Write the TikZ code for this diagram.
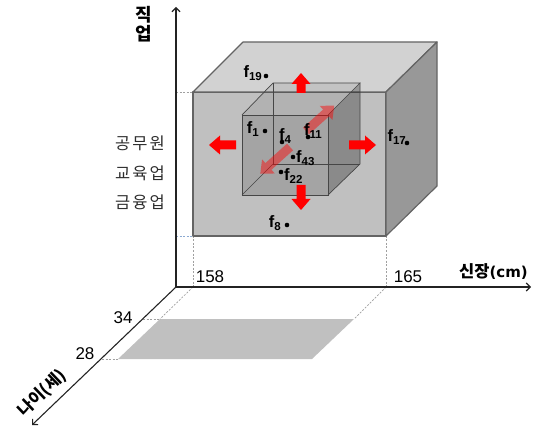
\documentclass[tikz,border=0pt]{standalone}
\usepackage{fontspec}
\setmainfont{Liberation Sans}
\newfontfamily\kr{Noto Sans CJK KR}
\newfontfamily\djv{DejaVu Sans}
\usetikzlibrary{arrows.meta}

\definecolor{frontc}{RGB}{192,192,192}
\definecolor{topc}{RGB}{210,210,210}
\definecolor{sidec}{RGB}{152,152,152}
\definecolor{edgec}{RGB}{100,100,100}
\definecolor{axisc}{RGB}{35,35,35}
\definecolor{dashc}{RGB}{160,160,160}
\definecolor{dashb}{RGB}{140,170,210}
\definecolor{txtc}{RGB}{45,45,45}
\definecolor{planec}{RGB}{192,192,192}

\newcommand{\fsub}[1]{{\fontsize{16.5}{16.5}\selectfont f}\raisebox{-2.5pt}{\fontsize{11.5}{11.5}\selectfont #1}}
\newcommand{\barrow}[5]{%
  \begin{scope}[shift={(#1,#2)},rotate=#3]
    \fill[#5] (0,-4.5) -- (#4-11,-4.5) -- (#4-11,-9.5) -- (#4,0) -- (#4-11,9.5) -- (#4-11,4.5) -- (0,4.5) -- cycle;
  \end{scope}}

\tikzset{
  face/.style={draw=edgec, line width=1.2pt, line join=round},
  ghost/.style={draw=edgec!70!black, line width=0.7pt},
  guide/.style={draw=dashc, dash pattern=on 2pt off 1.5pt, line width=0.7pt},
  guideb/.style={draw=dashb, dash pattern=on 2pt off 1.5pt, line width=0.9pt},
  axis/.style={draw=axisc, line width=1.1pt, -{Straight Barb[length=4pt,width=8pt]}},
  pt/.style={circle, fill=black, inner sep=0pt, minimum size=4.6pt},
  flab/.style={font=\bfseries, inner sep=0pt, text=black},
  num/.style={font=\fontsize{17}{17}\selectfont, text=black, inner sep=0pt},
  cat/.style={font=\kr\fontsize{16.5}{16.5}\selectfont, text=txtc, inner sep=0pt},
  axlab/.style={font=\kr\bfseries\fontsize{16.5}{16.5}\selectfont, text=black, inner sep=0pt},
  solidred/.style={red},
  softred/.style={red, fill opacity=0.45}
}

\begin{document}
\begin{tikzpicture}[x=1pt,y=-1pt]
\useasboundingbox (0,0) rectangle (537,427);

% axes coordinates
\coordinate (O) at (176,287);
\coordinate (Ytip) at (176,7);
\coordinate (Xtip) at (531,287);
\coordinate (Ztip) at (32,425);

% big box
\coordinate (FTL) at (193,92);
\coordinate (FTR) at (386,92);
\coordinate (FBR) at (386,236);
\coordinate (FBL) at (193,236);
\coordinate (BTL) at (243,42);
\coordinate (BTR) at (437,42);
\coordinate (BBR) at (437,186);

% axis points
\coordinate (X158) at (193,287);
\coordinate (X165) at (386,287);
\coordinate (Y1) at (176,92);
\coordinate (Y2) at (176,236);
\coordinate (Z34) at (143,319);
\coordinate (Z28) at (102,359);

% plane
\coordinate (PTL) at (160,319);
\coordinate (PTR) at (354,319);
\coordinate (PBR) at (312,359);
\coordinate (PBL) at (118,359);

\fill[planec] (PTL) -- (PTR) -- (PBR) -- (PBL) -- cycle;

% guides
\draw[guide] (FBL) -- (X158);
\draw[guide] (FBR) -- (X165);
\draw[guide] (X158) -- (PTL);
\draw[guide] (X165) -- (PTR);
\draw[guide] (Z34) -- (PTL);
\draw[guide] (Z28) -- (PBL);
\draw[guide] (Y1) -- (FTL);
\draw[guideb] (Y2) -- (FBL);

% big box faces
\filldraw[face, fill=frontc] (FTL) -- (FTR) -- (FBR) -- (FBL) -- cycle;
\filldraw[face, fill=topc] (FTL) -- (BTL) -- (BTR) -- (FTR) -- cycle;
\filldraw[face, fill=sidec] (FTR) -- (BTR) -- (BBR) -- (FBR) -- cycle;

% inner cube
\coordinate (iFTL) at (242,115);
\coordinate (iFTR) at (328,115);
\coordinate (iFBR) at (328,195);
\coordinate (iFBL) at (242,195);
\coordinate (iBTL) at (273,83);
\coordinate (iBTR) at (360,83);
\coordinate (iBBR) at (360,164);
\coordinate (iBBL) at (273,164);
\fill[black, fill opacity=0.14] (iFTL) -- (iFTR) -- (iFBR) -- (iFBL) -- cycle;
\fill[black, fill opacity=0.07] (iFTL) -- (iBTL) -- (iBTR) -- (iFTR) -- cycle;
\fill[black, fill opacity=0.28] (iFTR) -- (iBTR) -- (iBBR) -- (iFBR) -- cycle;
\draw[ghost] (iFTL) -- (iFTR) -- (iFBR) -- (iFBL) -- cycle;
\draw[ghost] (iFTL) -- (iBTL) -- (iBTR) -- (iFTR);
\draw[ghost] (iBTR) -- (iBBR) -- (iFBR);
\draw[ghost] (iBTL) -- (iBBL) -- (iBBR);
\draw[ghost] (iBBL) -- (iFBL);

% red arrows
\barrow{301}{93}{90}{20}{solidred}
\barrow{301}{185}{-90}{25}{solidred}
\barrow{236}{145}{180}{27}{solidred}
\barrow{349}{145}{0}{27}{solidred}
\barrow{306}{131}{42}{38}{softred}
\barrow{290}{147}{222}{40}{softred}

% points
\node[pt] (p19) at (266,76) {};
\node[pt] (p1) at (265,131) {};
\node[pt] (p4) at (282,142) {};
\node[pt] (p11) at (308,137) {};
\node[pt] (p43) at (293,157) {};
\node[pt] (p22) at (281,172) {};
\node[pt] (p8) at (287,225) {};
\node[pt] (p17) at (407,143) {};

\node[flab, anchor=base east] (l19) at (262,78) {\fsub{19}};
\node[flab, anchor=base east] (l1) at (259,134) {\fsub{1}};
\node[flab, anchor=base west] (l4) at (279,141) {\fsub{4}};
\node[flab, anchor=base west] (l11) at (304,136) {\fsub{11}};
\node[flab, anchor=base west] (l43) at (296,163) {\fsub{43}};
\node[flab, anchor=base west] (l22) at (284,181) {\fsub{22}};
\node[flab, anchor=base east] (l8) at (281,228) {\fsub{8}};
\node[flab, anchor=base east] (l17) at (406,142) {\fsub{17}};

% axes
\draw[axis] (O) -- (Ytip);
\draw[axis] (O) -- (Xtip);
\draw[axis] (O) -- (Ztip);

% axis labels
\node[axlab, font=\kr\bfseries\fontsize{18}{18}\selectfont] (yl1) at (144,15) {직};
\node[axlab, font=\kr\bfseries\fontsize{18}{18}\selectfont] (yl2) at (144,34) {업};
\node[axlab, anchor=east] (xl) at (528,272) {신장{\djv\bfseries\fontsize{15}{15}\selectfont (cm)}};
\node[axlab, rotate=43.8] (zl) at (42,393) {나이(세)};

\node[cat] (c1) at (140,143) {공\hspace{2pt}무\hspace{2pt}원};
\node[cat] (c2) at (140,173) {교\hspace{2pt}육\hspace{2pt}업};
\node[cat] (c3) at (140,202) {금\hspace{2pt}융\hspace{2pt}업};

\node[num] (n158) at (210,277) {158};
\node[num] (n165) at (408,277) {165};
\node[num] (n34) at (123,318) {34};
\node[num] (n28) at (85,354) {28};
\end{tikzpicture}
\end{document}
